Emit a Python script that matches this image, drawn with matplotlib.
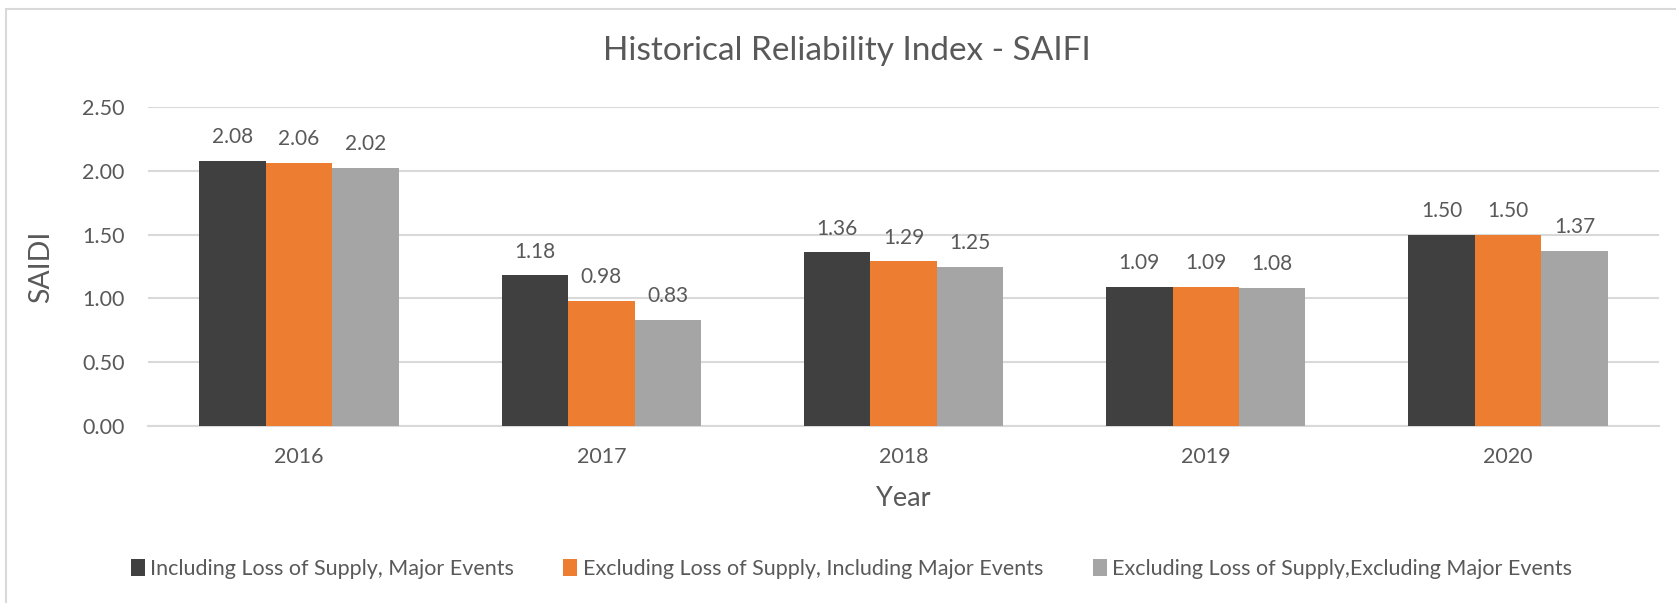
import numpy as np
import matplotlib
matplotlib.use('Agg')
import matplotlib.pyplot as plt
from matplotlib.patches import Rectangle

plt.rcParams['font.family'] = ['Lato', 'DejaVu Sans']

# data
years = ['2016', '2017', '2018', '2019', '2020']
series_names = ['Including Loss of Supply, Major Events',
                'Excluding Loss of Supply, Including Major Events',
                'Excluding Loss of Supply,Excluding Major Events']
incl_all = [2.08, 1.18, 1.36, 1.09, 1.50]
excl_los_incl_me = [2.06, 0.98, 1.29, 1.09, 1.50]
excl_los_excl_me = [2.02, 0.83, 1.25, 1.08, 1.37]
yticks = [0.0, 0.5, 1.0, 1.5, 2.0, 2.5]

colors = ['#404040', '#ED7D31', '#A5A5A5']
txt = '#595959'

fig = plt.figure(figsize=(16.76, 6.03), dpi=100)
ax = fig.add_axes([0.0883, 0.2935, 0.9016, 0.529])

x = np.arange(len(years))
w = 0.22
for i, (vals, name) in enumerate(zip([incl_all, excl_los_incl_me, excl_los_excl_me], series_names)):
    bars = ax.bar(x + (i - 1) * w, vals, width=w, color=colors[i], label=name, zorder=3)
    for b, v in zip(bars, vals):
        ax.annotate(f'{v:.2f}', (b.get_x() + b.get_width() / 2, v),
                    xytext=(0, 10), textcoords='offset points',
                    ha='center', va='bottom', fontsize=15, color=txt)

ax.set_xlim(-0.5, len(years) - 0.5)
ax.set_ylim(0, 2.5)
ax.set_yticks(yticks)
ax.set_yticklabels([f'{t:.2f}' for t in yticks])
ax.set_xticks(x)
ax.set_xticklabels(years)
ax.tick_params(axis='both', length=0, labelsize=15.5, labelcolor=txt)
ax.tick_params(axis='x', pad=15)
ax.tick_params(axis='y', pad=17)
ax.grid(axis='y', color='#D9D9D9', linewidth=1.5, zorder=0)
for s in ['top', 'right', 'left']:
    ax.spines[s].set_visible(False)
ax.spines['bottom'].set_color('#D9D9D9')
ax.spines['bottom'].set_linewidth(1.5)

ax.set_xlabel('Year', fontsize=19.5, color=txt, labelpad=14)
ax.set_ylabel('SAIDI', fontsize=20.5, color=txt, labelpad=20)

fig.text(0.505, 0.915, 'Historical Reliability Index - SAIFI',
         ha='center', va='center', fontsize=24, color=txt)

fig.legend(loc='center', bbox_to_anchor=(0.508, 0.056), ncol=3, frameon=False,
           fontsize=15.5, labelcolor=txt, handlelength=0.65, handleheight=0.85,
           handletextpad=0.25, columnspacing=2.3)

fig.patches.append(Rectangle((6 / 1676, -0.01), 1.0, 1 - 9 / 603 + 0.01,
                             transform=fig.transFigure, fill=False,
                             edgecolor='#D9D9D9', linewidth=1.5))

fig.savefig('out.png', dpi=100)
